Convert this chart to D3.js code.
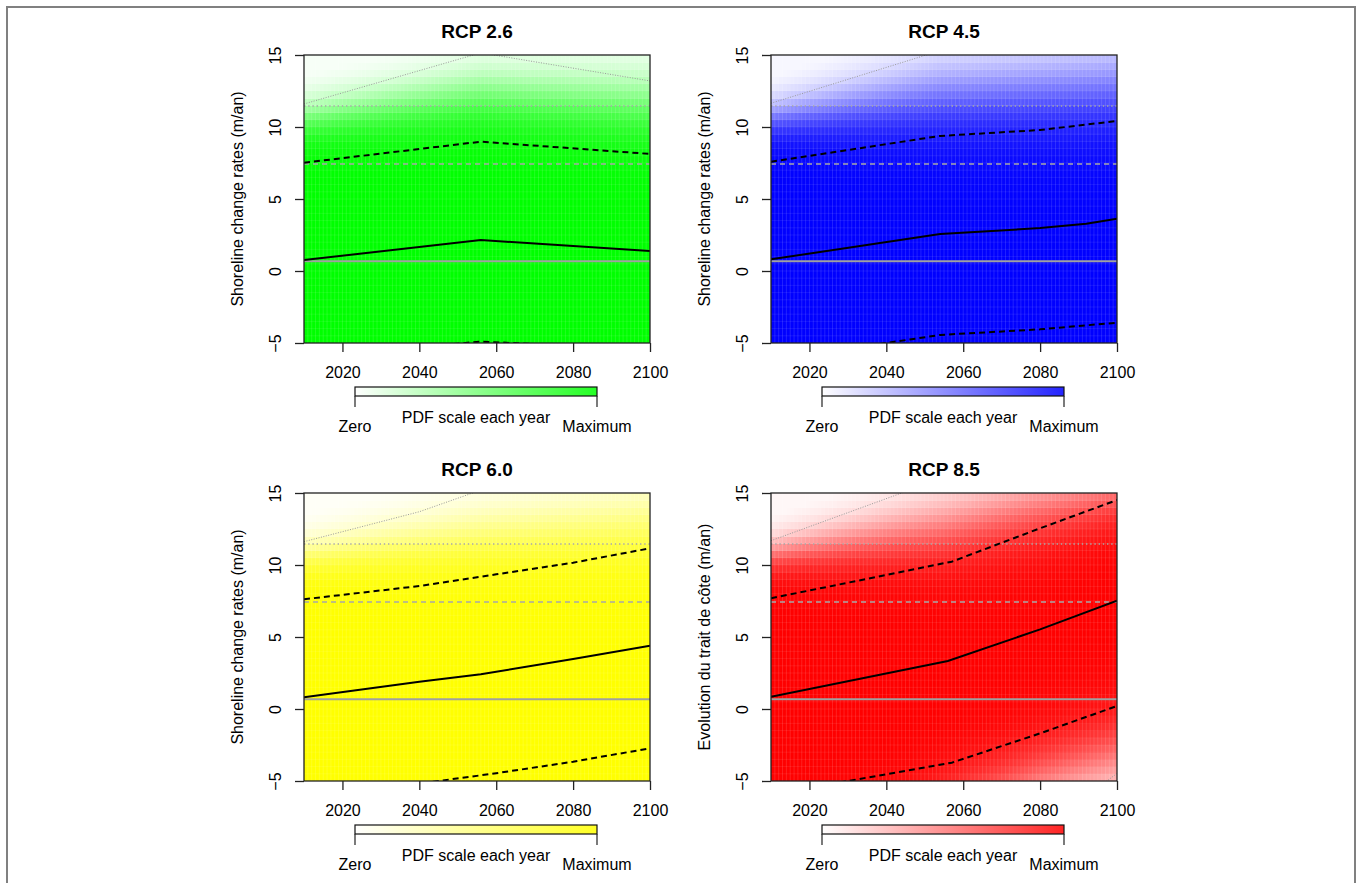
<!DOCTYPE html>
<html>
<head>
<meta charset="utf-8">
<script src="https://cdn.jsdelivr.net/npm/d3@7"></script>
<style>
  html, body { margin: 0; padding: 0; background: #ffffff; }
  svg { display: block; }
  text { font-family: "Liberation Sans", Arial, Helvetica, sans-serif; fill: #000; }
</style>
</head>
<body>
<svg id="chart" width="1357" height="883"></svg>
<script>
// ---------------- DATA ----------------
const panelTitles = ["RCP 2.6", "RCP 4.5", "RCP 6.0", "RCP 8.5"];
const yTitles = [
  "Shoreline change rates (m/an)",
  "Shoreline change rates (m/an)",
  "Shoreline change rates (m/an)",
  "Evolution du trait de côte (m/an)"
];
const xTicks = [2020, 2040, 2060, 2080, 2100];
const yTicks = [-5, 0, 5, 10, 15];
const xDomain = [2010, 2100];
const yDomain = [-5, 15];
const cellYears = d3.range(2010, 2100, 1);      // one PDF column per year
const cellRates = d3.range(-5, 15, 0.5);        // 0.5 m/an bins
const colorbarLabels = ["Zero", "PDF scale each year", "Maximum"];

// horizontal reference levels (historical)
const refSolid = 0.68;
const refDashed = 7.43;
const refDotted = 11.46;

// RCP 2.6
const median26  = [[2010, 0.76], [2056, 2.15], [2100, 1.39]];
const upper26   = [[2010, 7.52], [2056, 8.98], [2100, 8.13]];
const lower26   = [[2010, -6.0], [2056, -4.9], [2100, -5.45]];
const extUp26   = [[2010, 11.6], [2056, 15.15], [2100, 13.2]];
const extLow26  = [];
// RCP 4.5
const median45  = [[2010, 0.81], [2054, 2.57], [2080, 2.98], [2092, 3.28], [2100, 3.63]];
const upper45   = [[2010, 7.59], [2054, 9.38], [2080, 9.79], [2100, 10.42]];
const lower45   = [[2010, -6.2], [2054, -4.44], [2080, -4.05], [2100, -3.59]];
const extUp45   = [[2010, 11.65], [2054, 15.3], [2100, 18.5]];
const extLow45  = [];
// RCP 6.0
const median60  = [[2010, 0.81], [2040, 1.9], [2056, 2.41], [2080, 3.47], [2100, 4.4]];
const upper60   = [[2010, 7.62], [2040, 8.54], [2060, 9.35], [2080, 10.16], [2100, 11.16]];
const lower60   = [[2010, -6.26], [2045, -5.0], [2060, -4.46], [2080, -3.66], [2100, -2.73]];
const extUp60   = [[2010, 11.62], [2040, 13.7], [2056, 15.2], [2100, 19.0]];
const extLow60  = [];
// RCP 8.5
const median85  = [[2010, 0.85], [2056, 3.33], [2080, 5.53], [2100, 7.52]];
const upper85   = [[2010, 7.69], [2057, 10.23], [2080, 12.55], [2100, 14.51]];
const lower85   = [[2010, -5.94], [2057, -3.73], [2080, -1.69], [2100, 0.21]];
const extUp85   = [[2010, 11.69], [2044, 15.0], [2100, 20.0]];
const extLow85  = [[2080, -8.5], [2100, -4.47]];

// PDF fade (upper tail): rate at half intensity and tail width, at key years
const fadeYears26 = [2010, 2056, 2100], fadeMid26 = [10.8, 12.5, 11.9], fadeWid26 = [0.85, 1.2, 1.4];
const fadeYears45 = [2010, 2054, 2100], fadeMid45 = [10.8, 12.5, 13.1], fadeWid45 = [0.8, 1.5, 1.7];
const fadeYears60 = [2010, 2056, 2100], fadeMid60 = [10.9, 12.4, 13.2], fadeWid60 = [0.8, 1.3, 1.6];
const fadeYears85 = [2010, 2055, 2078, 2100], fadeMid85 = [10.9, 12.8, 14.2, 15.3], fadeWid85 = [0.75, 1.4, 1.5, 1.3];
// PDF fade (lower tail), only visible for RCP 8.5
const lowYears85 = [2010, 2061, 2080, 2100], lowMid85 = [-14, -7.0, -5.0, -3.4], lowWid85 = [1.5, 1.5, 1.5, 1.6];

// ---------------- STYLE ----------------
const panelColors = ["#00ff00", "#0000ff", "#ffff00", "#ff0000"];

const series = [
  { med: median26, up: upper26, lo: lower26, eu: extUp26, el: extLow26,
    fy: fadeYears26, fm: fadeMid26, fw: fadeWid26, ly: null },
  { med: median45, up: upper45, lo: lower45, eu: extUp45, el: extLow45,
    fy: fadeYears45, fm: fadeMid45, fw: fadeWid45, ly: null },
  { med: median60, up: upper60, lo: lower60, eu: extUp60, el: extLow60,
    fy: fadeYears60, fm: fadeMid60, fw: fadeWid60, ly: null },
  { med: median85, up: upper85, lo: lower85, eu: extUp85, el: extLow85,
    fy: fadeYears85, fm: fadeMid85, fw: fadeWid85, ly: lowYears85, lm: lowMid85, lw: lowWid85 }
];

const svg = d3.select("#chart");
svg.append("rect").attr("width", 1357).attr("height", 883).attr("fill", "#fff");
// outer frame
svg.append("path").attr("d", "M7,890V7H1355V890")
  .attr("fill", "none").attr("stroke", "#808080").attr("stroke-width", 2);

const defs = svg.append("defs");

panelTitles.forEach((title, i) => {
  const col = i % 2, row = Math.floor(i / 2);
  const x0 = 304 + col * 467, x1 = 650 + col * 467;
  const y0 = 55 + row * 438, y1 = 343 + row * 438;
  const x = d3.scaleLinear().domain(xDomain).range([x0, x1]);
  const y = d3.scaleLinear().domain(yDomain).range([y1, y0]);
  const s = series[i];
  const color = panelColors[i];
  const colorAt = d3.interpolateRgb("#ffffff", color);

  const midS = d3.scaleLinear().domain(s.fy).range(s.fm).clamp(true);
  const widS = d3.scaleLinear().domain(s.fy).range(s.fw).clamp(true);
  let lmidS = null, lwidS = null;
  if (s.ly) {
    lmidS = d3.scaleLinear().domain(s.ly).range(s.lm).clamp(true);
    lwidS = d3.scaleLinear().domain(s.ly).range(s.lw).clamp(true);
  }

  const g = svg.append("g");

  // clip
  const clipId = "clip" + i;
  defs.append("clipPath").attr("id", clipId)
    .append("rect").attr("x", x0).attr("y", y0).attr("width", x1 - x0).attr("height", y1 - y0);

  // heatmap cells
  const cells = [];
  cellYears.forEach(yr => {
    const yc = yr + 0.5;
    const m = midS(yc), w = widS(yc);
    const lm = lmidS ? lmidS(yc) : null, lw = lwidS ? lwidS(yc) : null;
    cellRates.forEach(r => {
      const v = r + 0.25;
      let t = 1 / (1 + Math.exp((v - m) / w));
      if (lm !== null) t *= 1 / (1 + Math.exp((lm - v) / lw));
      t = Math.max(0.03, t);
      cells.push({ yr, r, t });
    });
  });
  const hm = g.append("g").attr("clip-path", `url(#${clipId})`);
  hm.selectAll("rect.cell").data(cells).join("rect")
    .attr("class", "cell")
    .attr("x", d => x(d.yr))
    .attr("y", d => y(d.r + 0.5))
    .attr("width", d => x(d.yr + 1) - x(d.yr) + 0.3)
    .attr("height", d => y(d.r) - y(d.r + 0.5) + 0.3)
    .attr("fill", d => colorAt(d.t))
    .attr("shape-rendering", "crispEdges");
  // faint cell boundaries
  hm.selectAll("line.vgrid").data(cellYears.slice(1)).join("line")
    .attr("x1", d => x(d)).attr("x2", d => x(d)).attr("y1", y0).attr("y2", y1)
    .attr("stroke", "#fff").attr("stroke-opacity", 0.16).attr("stroke-width", 0.8);
  hm.selectAll("line.hgrid").data(cellRates.slice(1)).join("line")
    .attr("y1", d => y(d)).attr("y2", d => y(d)).attr("x1", x0).attr("x2", x1)
    .attr("stroke", "#fff").attr("stroke-opacity", 0.1).attr("stroke-width", 0.8);

  const lines = g.append("g").attr("clip-path", `url(#${clipId})`);
  // reference horizontal lines
  lines.append("line").attr("x1", x0).attr("x2", x1).attr("y1", y(refSolid)).attr("y2", y(refSolid))
    .attr("stroke", "#a0a0a0").attr("stroke-width", 2);
  lines.append("line").attr("x1", x0).attr("x2", x1).attr("y1", y(refDashed)).attr("y2", y(refDashed))
    .attr("stroke", "#a8a8a8").attr("stroke-width", 1.6).attr("stroke-dasharray", "5,4");
  lines.append("line").attr("x1", x0).attr("x2", x1).attr("y1", y(refDotted)).attr("y2", y(refDotted))
    .attr("stroke", "#a8a8a8").attr("stroke-width", 1.6).attr("stroke-dasharray", "1.4,2.8");

  const lineGen = d3.line().x(d => x(d[0])).y(d => y(d[1]));
  // extremes (thin dotted gray)
  [s.eu, s.el].forEach(arr => {
    if (!arr.length) return;
    lines.append("path").attr("d", lineGen(arr)).attr("fill", "none")
      .attr("stroke", "#9a9a9a").attr("stroke-width", 1).attr("stroke-dasharray", "1,1.5");
  });
  // quantile bounds (black dashed)
  [s.up, s.lo].forEach(arr => {
    lines.append("path").attr("d", lineGen(arr)).attr("fill", "none")
      .attr("stroke", "#000").attr("stroke-width", 2).attr("stroke-dasharray", "6,4");
  });
  // median
  lines.append("path").attr("d", lineGen(s.med)).attr("fill", "none")
    .attr("stroke", "#000").attr("stroke-width", 2);

  // box
  g.append("rect").attr("x", x0).attr("y", y0).attr("width", x1 - x0).attr("height", y1 - y0)
    .attr("fill", "none").attr("stroke", "#222").attr("stroke-width", 1.3);

  // x axis
  const xa = g.append("g").attr("transform", `translate(0,${y1})`)
    .call(d3.axisBottom(x).tickValues(xTicks).tickSize(9).tickPadding(15).tickFormat(d3.format("d")));
  xa.select(".domain").remove();
  xa.selectAll("line").attr("stroke", "#222").attr("stroke-width", 1.3);
  xa.selectAll("text").attr("font-size", 16).attr("font-family", "Liberation Sans, Arial, sans-serif");

  // y axis
  const ya = g.append("g").attr("transform", `translate(${x0},0)`)
    .call(d3.axisLeft(y).tickValues(yTicks).tickSize(9));
  ya.select(".domain").remove();
  ya.selectAll("line").attr("stroke", "#222").attr("stroke-width", 1.3);
  ya.selectAll("text")
    .attr("x", null).attr("dy", null)
    .attr("transform", "translate(-23,0) rotate(-90)")
    .attr("text-anchor", "middle")
    .attr("font-size", 16).attr("font-family", "Liberation Sans, Arial, sans-serif");

  // y title
  g.append("text")
    .attr("transform", `translate(${242.5 + col * 467},${(y0 + y1) / 2}) rotate(-90)`)
    .attr("text-anchor", "middle").attr("font-size", 16)
    .text(yTitles[i]);

  // title
  g.append("text").attr("x", (x0 + x1) / 2).attr("y", y0 - 17)
    .attr("text-anchor", "middle").attr("font-size", 19).attr("font-weight", "bold")
    .text(title);

  // colorbar
  const cbx0 = x0 + 51, cbx1 = x1 - 53, cby0 = y1 + 44, cby1 = y1 + 53;
  const gradId = "grad" + i;
  const grad = defs.append("linearGradient").attr("id", gradId)
    .attr("x1", "0%").attr("x2", "100%").attr("y1", "0%").attr("y2", "0%");
  d3.range(0, 1.0001, 0.1).forEach(f => {
    grad.append("stop").attr("offset", (f * 100) + "%").attr("stop-color", colorAt(f * 0.86));
  });
  g.append("rect").attr("x", cbx0).attr("y", cby0).attr("width", cbx1 - cbx0).attr("height", cby1 - cby0)
    .attr("fill", `url(#${gradId})`).attr("stroke", "#111").attr("stroke-width", 1.2);
  [cbx0, cbx1].forEach(cx => {
    g.append("line").attr("x1", cx).attr("x2", cx).attr("y1", cby1).attr("y2", cby1 + 11)
      .attr("stroke", "#222").attr("stroke-width", 1.2);
  });
  g.append("text").attr("x", cbx0).attr("y", y1 + 89).attr("text-anchor", "middle")
    .attr("font-size", 16).text(colorbarLabels[0]);
  g.append("text").attr("x", (cbx0 + cbx1) / 2).attr("y", y1 + 80).attr("text-anchor", "middle")
    .attr("font-size", 16).text(colorbarLabels[1]);
  g.append("text").attr("x", cbx1).attr("y", y1 + 89).attr("text-anchor", "middle")
    .attr("font-size", 16).text(colorbarLabels[2]);
});
</script>
</body>
</html>
